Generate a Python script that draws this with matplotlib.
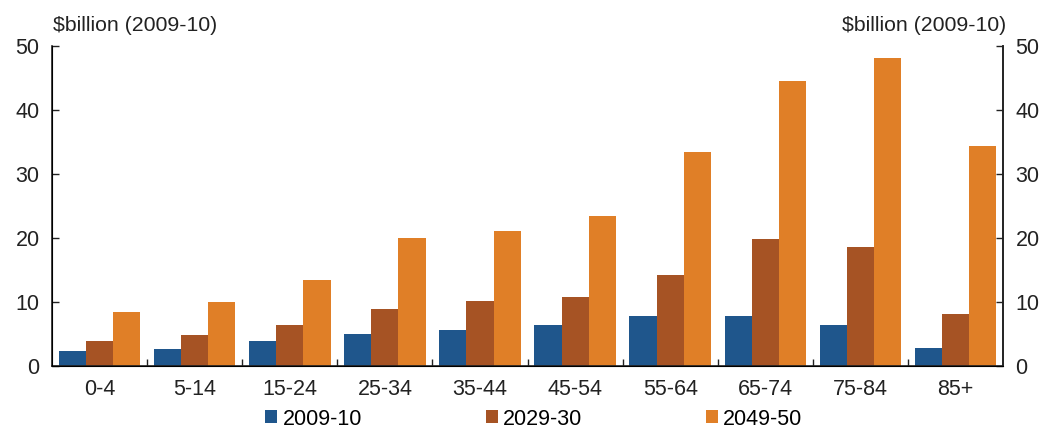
import numpy as np
import matplotlib.pyplot as plt
from matplotlib.ticker import FixedLocator

plt.rcParams['font.family'] = ['Liberation Sans', 'DejaVu Sans']

groups = ["0-4", "5-14", "15-24", "25-34", "35-44", "45-54", "55-64", "65-74", "75-84", "85+"]
s2009 = [2.2, 2.6, 3.8, 5.0, 5.5, 6.3, 7.7, 7.7, 6.4, 2.7]
s2029 = [3.8, 4.8, 6.3, 8.8, 10.1, 10.7, 14.1, 19.8, 18.5, 8.0]
s2049 = [8.4, 9.9, 13.4, 19.9, 21.0, 23.4, 33.4, 44.6, 48.2, 34.4]
series_names = ["2009-10", "2029-30", "2049-50"]
colors = ["#1f568c", "#a65324", "#e07f27"]
yticks = [0, 10, 20, 30, 40, 50]

fig = plt.figure(figsize=(10.43, 4.32), dpi=100)
ax = fig.add_axes([0.0499, 0.1539, 0.9118, 0.7396])

x = np.arange(len(groups))
w = 0.286
bars = []
for i, (vals, c) in enumerate(zip([s2009, s2029, s2049], colors)):
    b = ax.bar(x + (i - 1) * w, vals, width=w, color=c, label=series_names[i])
    bars.append(b)

ax.set_xlim(-0.5, len(groups) - 0.5)
ax.set_ylim(0, 50)
ax.set_yticks(yticks)
ax.set_xticks(x)
ax.set_xticklabels(groups)
ax.xaxis.set_minor_locator(FixedLocator(np.arange(0.5, len(groups) - 1, 1)))
ax.tick_params(axis='x', which='major', length=0, pad=10, labelsize=15.5, colors='#222222')
ax.tick_params(axis='x', which='minor', direction='in', length=5, width=1, color='#222222')
ax.tick_params(axis='y', direction='in', length=5, width=1, labelsize=15.5, pad=9, colors='#222222')

ax.spines['top'].set_visible(False)
for s in ['left', 'right', 'bottom']:
    ax.spines[s].set_color('#222222')
    ax.spines[s].set_linewidth(1.2)

ax2 = ax.twinx()
ax2.set_ylim(0, 50)
ax2.set_yticks(yticks)
ax2.tick_params(axis='y', direction='in', length=5, width=1, labelsize=15.5, pad=9, colors='#222222')
ax2.spines['top'].set_visible(False)
ax2.spines['right'].set_color('#222222')
ax2.spines['right'].set_linewidth(1.2)

fig.text(0.051, 0.942, "$billion (2009-10)", fontsize=15.3, ha='left', va='center', color='#222222')
fig.text(0.965, 0.942, "$billion (2009-10)", fontsize=15.3, ha='right', va='center', color='#222222')

fig.legend(handles=bars, labels=series_names, loc='center', bbox_to_anchor=(0.512, 0.03),
           ncol=3, frameon=False, fontsize=15.5, handlelength=0.55, handleheight=0.55,
           handletextpad=0.25, columnspacing=5.75, borderpad=0)

fig.savefig("out.png", dpi=100)
